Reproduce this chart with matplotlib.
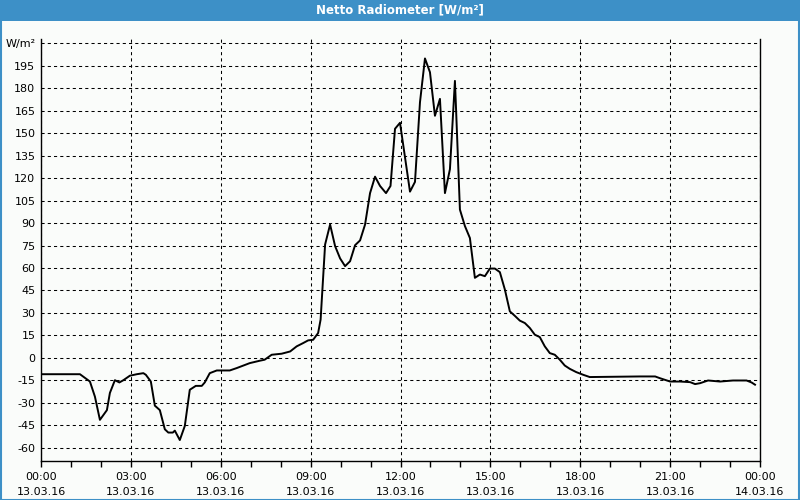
import matplotlib
matplotlib.use("Agg")
import matplotlib.pyplot as plt
from matplotlib.patches import Rectangle

# time in minutes since 13.03.16 00:00
minutes = [0, 78, 98, 108, 118, 132, 138, 148, 157, 165, 178, 192, 205, 210, 220, 228,
           238, 248, 255, 264, 268, 278, 288, 298, 310, 322, 328, 338, 352, 378, 392, 418,
           438, 448, 462, 482, 499, 512, 525, 535, 545, 555, 560, 569, 579, 589, 599, 609,
           619, 629, 639, 649, 659, 669, 679, 691, 700, 709, 719, 729, 739, 749, 759, 769,
           779, 789, 799, 809, 819, 829, 831, 839, 849, 859, 869, 879, 889, 899, 909, 919,
           929, 939, 949, 959, 969, 979, 989, 999, 1009, 1019, 1029, 1039, 1049, 1059, 1072,
           1086, 1099, 1200, 1230, 1239, 1260, 1280, 1300, 1310, 1320, 1336, 1360, 1386,
           1413, 1423, 1430]
values = [-11, -11, -15.9, -26, -41.5, -35, -23.5, -15, -16.5, -15, -12, -11, -10.3, -11.4,
          -15.9, -32, -35, -47.8, -50, -50, -48.7, -55, -45.6, -21.4, -18.8, -18.8, -16.5,
          -10.3, -8.5, -8.5, -6.9, -3.6, -2, -1.3, 2, 2.7, 4.2, 7.6, 9.8, 11.6, 12, 16.5,
          25.5, 75.7, 89, 74.6, 66.4, 61.2, 64.5, 75.2, 78.4, 89, 110, 121, 114.8, 110,
          114.8, 153, 157, 134, 111, 117.5, 170.7, 200, 190.8, 161.7, 173, 110, 126, 185,
          168.4, 99, 88, 80, 53.4, 55.6, 54.5, 59.6, 59.6, 57.2, 45.6, 31, 28, 24.8, 23.2,
          19.9, 15.4, 13.8, 7.6, 3.1, 2, -1.3, -5.2, -7.4, -9.6, -11.4, -12.9, -12.5, -12.5,
          -13.6, -15.9, -15.9, -16.3, -17.6, -17, -15.2, -15.9, -15.2, -15.2, -16.5, -18]

y_ticks = [-60, -45, -30, -15, 0, 15, 30, 45, 60, 75, 90, 105, 120, 135, 150, 165, 180, 195, 210]
y_labels = ["-60", "-45", "-30", "-15", "0", "15", "30", "45", "60", "75", "90", "105",
            "120", "135", "150", "165", "180", "195", "W/m²"]
x_ticks_h = [0, 3, 6, 9, 12, 15, 18, 21, 24]
x_labels = ["00:00\n13.03.16", "03:00\n13.03.16", "06:00\n13.03.16", "09:00\n13.03.16",
            "12:00\n13.03.16", "15:00\n13.03.16", "18:00\n13.03.16", "21:00\n13.03.16",
            "00:00\n14.03.16"]
title = "Netto Radiometer [W/m²]"

W, H = 800, 500
fig = plt.figure(figsize=(8, 5), dpi=100)
fig.patch.set_facecolor("#fafcfa")

blue = "#3d90c7"
# title bar
fig.add_artist(Rectangle((0, 1 - 21 / H), 1, 21 / H, transform=fig.transFigure,
                         facecolor=blue, edgecolor="none", zorder=0))
# frame border
fig.add_artist(Rectangle((0.5 / W, 0.5 / H), 1 - 1.5 / W, 1 - 1.5 / H, transform=fig.transFigure,
                         facecolor="none", edgecolor=blue, linewidth=1.5, zorder=5))
fig.text(0.5, 1 - 10 / H, title, color="white", ha="center", va="center",
         fontsize=8.5, fontweight="bold", family="DejaVu Sans")

ax = fig.add_axes([41 / W, 1 - 461 / H, (760 - 41) / W, (461 - 39) / H])
ax.set_facecolor("#fafcfa")

hours = [m / 60 for m in minutes]
ax.plot(hours, values, color="black", linewidth=1.4, zorder=3)

ax.set_xlim(0, 24)
ax.set_ylim(-69, 213)
ax.set_yticks(y_ticks)
ax.set_yticklabels(y_labels)
ax.set_xticks(x_ticks_h)
ax.set_xticklabels(x_labels, linespacing=1.6)
ax.set_xticks(range(0, 25), minor=True)

ax.grid(True, which="major", color="black", linestyle=(0, (3, 3)), linewidth=0.75)
ax.spines["top"].set_visible(False)
for s in ["left", "bottom", "right"]:
    ax.spines[s].set_linewidth(1.0)
    ax.spines[s].set_color("black")

ax.tick_params(axis="y", length=0, pad=4, labelsize=8, colors="black")
ax.tick_params(axis="x", which="both", length=4, width=1, direction="out",
               pad=4, labelsize=8, colors="black")

fig.savefig("out.png", dpi=100, facecolor=fig.get_facecolor())
